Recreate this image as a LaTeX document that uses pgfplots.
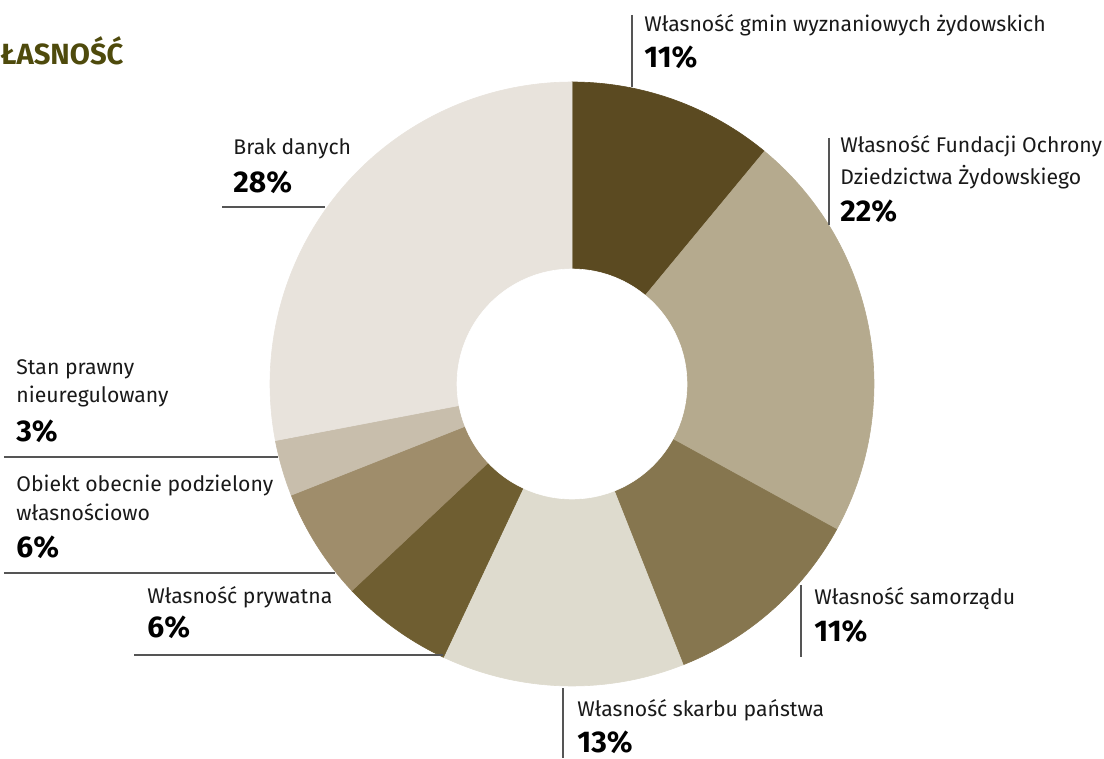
\documentclass[border=0pt]{standalone}
\usepackage{pgfplots}
\pgfplotsset{compat=1.18}
\usepackage{fontspec}
\setmainfont{Fira Sans}
\definecolor{c1}{HTML}{5B4A21}
\definecolor{c2}{HTML}{B5AA8E}
\definecolor{c3}{HTML}{86764F}
\definecolor{c4}{HTML}{DEDBCE}
\definecolor{c5}{HTML}{6F5E31}
\definecolor{c6}{HTML}{9F8D6B}
\definecolor{c7}{HTML}{C8BEAC}
\definecolor{c8}{HTML}{E8E3DC}
\definecolor{ttl}{HTML}{4E4A0C}
\definecolor{lead}{HTML}{555555}
\begin{document}
\begin{tikzpicture}
\begin{axis}[x=0.5pt, y=0.5pt, xmin=0, xmax=1104, ymin=0, ymax=758,
  hide axis, clip=false, scale only axis,
  every axis plot/.append style={line width=0.3pt}]
\path (axis cs:0,0) rectangle (axis cs:1104,758);
% slices: cumulative percentages 0,11,33,44,57,63,69,72,100 (x 3.6 deg)
\addplot[draw=c1, fill=c1, domain=0:39.6, samples=40] ({572+302*sin(x)},{374+302*cos(x)}) -- (axis cs:572,374) -- cycle;
\addplot[draw=c2, fill=c2, domain=39.6:118.8, samples=60] ({572+302*sin(x)},{374+302*cos(x)}) -- (axis cs:572,374) -- cycle;
\addplot[draw=c3, fill=c3, domain=118.8:158.4, samples=40] ({572+302*sin(x)},{374+302*cos(x)}) -- (axis cs:572,374) -- cycle;
\addplot[draw=c4, fill=c4, domain=158.4:205.2, samples=40] ({572+302*sin(x)},{374+302*cos(x)}) -- (axis cs:572,374) -- cycle;
\addplot[draw=c5, fill=c5, domain=205.2:226.8, samples=30] ({572+302*sin(x)},{374+302*cos(x)}) -- (axis cs:572,374) -- cycle;
\addplot[draw=c6, fill=c6, domain=226.8:248.4, samples=30] ({572+302*sin(x)},{374+302*cos(x)}) -- (axis cs:572,374) -- cycle;
\addplot[draw=c7, fill=c7, domain=248.4:259.2, samples=20] ({572+302*sin(x)},{374+302*cos(x)}) -- (axis cs:572,374) -- cycle;
\addplot[draw=c8, fill=c8, domain=259.2:360, samples=80] ({572+302*sin(x)},{374+302*cos(x)}) -- (axis cs:572,374) -- cycle;
\addplot[draw=white, fill=white, domain=0:360, samples=150] ({572+115*sin(x)},{374+115*cos(x)}) -- cycle;
% leader lines
\draw[lead, line width=0.65pt] (axis cs:632,743) -- (axis cs:632,671);
\draw[lead, line width=0.65pt] (axis cs:829,620) -- (axis cs:829,533);
\draw[lead, line width=0.65pt] (axis cs:801,173) -- (axis cs:801,101);
\draw[lead, line width=0.65pt] (axis cs:563,70) -- (axis cs:563,0);
\draw[lead, line width=0.65pt] (axis cs:134,103) -- (axis cs:443,103);
\draw[lead, line width=0.65pt] (axis cs:4,185) -- (axis cs:335,185);
\draw[lead, line width=0.65pt] (axis cs:4,301) -- (axis cs:278,301);
\draw[lead, line width=0.65pt] (axis cs:222,551) -- (axis cs:325,551);
% labels
\tikzset{lab/.style={anchor=base west, inner sep=0pt, font=\fontsize{10.6pt}{12pt}\selectfont, text=black!90},
         pct/.style={anchor=base west, inner sep=0pt, font=\fontsize{15pt}{16pt}\selectfont\bfseries, text=black}}
\node[anchor=base west, inner sep=0pt, font=\fontsize{14.6pt}{16pt}\selectfont\bfseries, text=ttl] at (axis cs:0,693) {ŁASNOŚĆ};
\node[lab] at (axis cs:644,726) {Własność gmin wyznaniowych żydowskich};
\node[pct] at (axis cs:644,690) {11\%};
\node[lab] at (axis cs:840,605) {Własność Fundacji Ochrony};
\node[lab] at (axis cs:840,573) {Dziedzictwa Żydowskiego};
\node[pct] at (axis cs:840,536) {22\%};
\node[lab] at (axis cs:814,153) {Własność samorządu};
\node[pct] at (axis cs:814,116) {11\%};
\node[lab] at (axis cs:577,41) {Własność skarbu państwa};
\node[pct] at (axis cs:577,6) {13\%};
\node[lab] at (axis cs:147,155) {Własność prywatna};
\node[pct] at (axis cs:147,120) {6\%};
\node[lab] at (axis cs:16,266) {Obiekt obecnie podzielony};
\node[lab] at (axis cs:16,237) {własnościowo};
\node[pct] at (axis cs:16,200) {6\%};
\node[lab] at (axis cs:16,383) {Stan prawny};
\node[lab] at (axis cs:16,355) {nieuregulowany};
\node[pct] at (axis cs:16,316) {3\%};
\node[lab] at (axis cs:233,603) {Brak danych};
\node[pct] at (axis cs:233,565) {28\%};
\end{axis}
\end{tikzpicture}
\end{document}
